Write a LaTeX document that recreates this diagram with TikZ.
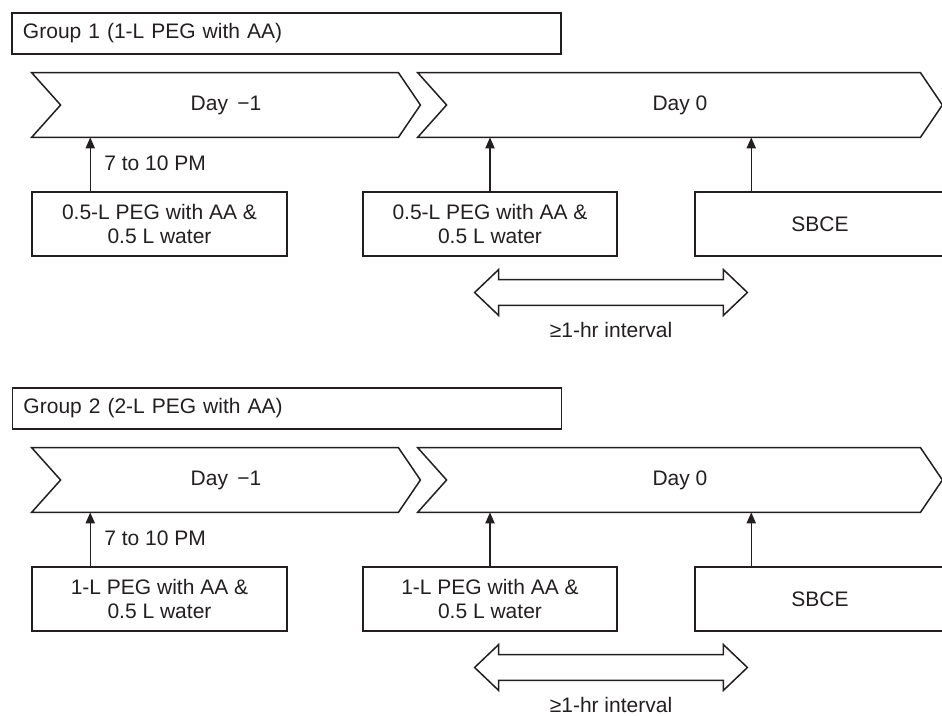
\documentclass[tikz,border=0pt]{standalone}
\usepackage{fontspec}
\setmainfont{Liberation Sans}
\usetikzlibrary{arrows.meta,calc}
\definecolor{ink}{HTML}{231F20}
\tikzset{
  every node/.style={font=\fontsize{10.5}{12}\selectfont, text=ink},
  ln/.style={draw=ink, line width=0.75pt},
  hdrbox/.style={ln, rectangle, minimum width=274.5pt, minimum height=20.5pt,
                 text width=263.5pt, align=left, inner xsep=5.5pt},
  stepbox/.style={ln, rectangle, minimum height=32pt, align=center, inner sep=0pt},
  chevnode/.style={rectangle, minimum height=32pt, inner sep=0pt},
  chevline/.style={ln, line join=miter},
  arr/.style={draw=ink, line width=0.75pt, -{Triangle[length=5.5pt,width=4.6pt]}},
  dblnode/.style={rectangle, minimum width=136pt, minimum height=22.5pt, inner sep=0pt},
}
\begin{document}
\begin{tikzpicture}[x=0.5pt,y=-0.5pt]
\useasboundingbox (0,0) rectangle (942,716);
% ---------- Group 1 ----------
\begin{scope}
\node[hdrbox] (h1) at (286.5,33.5) {Group 1 (1-L PEG with AA)};
\node[chevnode, minimum width=194pt] (cA1) at (226,105) {Day \,−1};
\node[chevnode, minimum width=262pt] (cB1) at (680,105) {Day 0};
\draw[chevline] (cA1.north west) -- ([xshift=-11pt]cA1.north east) -- (cA1.east)
  -- ([xshift=-11pt]cA1.south east) -- (cA1.south west) -- ([xshift=14.5pt]cA1.west) -- cycle;
\draw[chevline] (cB1.north west) -- ([xshift=-11pt]cB1.north east) -- (cB1.east)
  -- ([xshift=-11pt]cB1.south east) -- (cB1.south west) -- ([xshift=14.5pt]cB1.west) -- cycle;
\node[stepbox, minimum width=127.5pt] (bA1) at (159.5,224) {0.5-L PEG with AA \&\\0.5 L water};
\node[stepbox, minimum width=127pt] (bB1) at (490,224) {0.5-L PEG with AA \&\\0.5 L water};
\node[stepbox, minimum width=125pt] (bC1) at (820,224) {SBCE};
\draw[arr] ([xshift=29.5pt]bA1.north west) -- ([xshift=29.5pt]bA1.north west |- cA1.south);
\draw[arr] (bB1.north) -- (bB1.north |- cB1.south);
\draw[arr] ([xshift=28.5pt]bC1.north west) -- ([xshift=28.5pt]bC1.north west |- cB1.south);
\node[anchor=west, inner sep=0pt] (t1) at (104,163) {7 to 10 PM};
\node[dblnode] (d1) at (611,292.5) {};
\draw[chevline] (d1.west) -- ([xshift=12pt]d1.north west) -- ([xshift=12pt,yshift=-5pt]d1.north west)
  -- ([xshift=-12pt,yshift=-5pt]d1.north east) -- ([xshift=-12pt]d1.north east) -- (d1.east)
  -- ([xshift=-12pt]d1.south east) -- ([xshift=-12pt,yshift=5pt]d1.south east)
  -- ([xshift=12pt,yshift=5pt]d1.south west) -- ([xshift=12pt]d1.south west) -- cycle;
\node[inner sep=0pt] (l1) at (611,330) {≥1-hr interval};
\end{scope}
% ---------- Group 2 ----------
\begin{scope}[shift={(0,375)}]
\node[hdrbox] (h2) at (287,33.5) {Group 2 (2-L PEG with AA)};
\node[chevnode, minimum width=194pt] (cA2) at (226,105) {Day \,−1};
\node[chevnode, minimum width=262pt] (cB2) at (680,105) {Day 0};
\draw[chevline] (cA2.north west) -- ([xshift=-11pt]cA2.north east) -- (cA2.east)
  -- ([xshift=-11pt]cA2.south east) -- (cA2.south west) -- ([xshift=14.5pt]cA2.west) -- cycle;
\draw[chevline] (cB2.north west) -- ([xshift=-11pt]cB2.north east) -- (cB2.east)
  -- ([xshift=-11pt]cB2.south east) -- (cB2.south west) -- ([xshift=14.5pt]cB2.west) -- cycle;
\node[stepbox, minimum width=127.5pt] (bA2) at (159.5,224) {1-L PEG with AA \&\\0.5 L water};
\node[stepbox, minimum width=127pt] (bB2) at (490,224) {1-L PEG with AA \&\\0.5 L water};
\node[stepbox, minimum width=125pt] (bC2) at (820,224) {SBCE};
\draw[arr] ([xshift=29.5pt]bA2.north west) -- ([xshift=29.5pt]bA2.north west |- cA2.south);
\draw[arr] (bB2.north) -- (bB2.north |- cB2.south);
\draw[arr] ([xshift=28.5pt]bC2.north west) -- ([xshift=28.5pt]bC2.north west |- cB2.south);
\node[anchor=west, inner sep=0pt] (t2) at (104,163) {7 to 10 PM};
\node[dblnode] (d2) at (611,292.5) {};
\draw[chevline] (d2.west) -- ([xshift=12pt]d2.north west) -- ([xshift=12pt,yshift=-5pt]d2.north west)
  -- ([xshift=-12pt,yshift=-5pt]d2.north east) -- ([xshift=-12pt]d2.north east) -- (d2.east)
  -- ([xshift=-12pt]d2.south east) -- ([xshift=-12pt,yshift=5pt]d2.south east)
  -- ([xshift=12pt,yshift=5pt]d2.south west) -- ([xshift=12pt]d2.south west) -- cycle;
\node[inner sep=0pt] (l2) at (611,330) {≥1-hr interval};
\end{scope}
\end{tikzpicture}
\end{document}
